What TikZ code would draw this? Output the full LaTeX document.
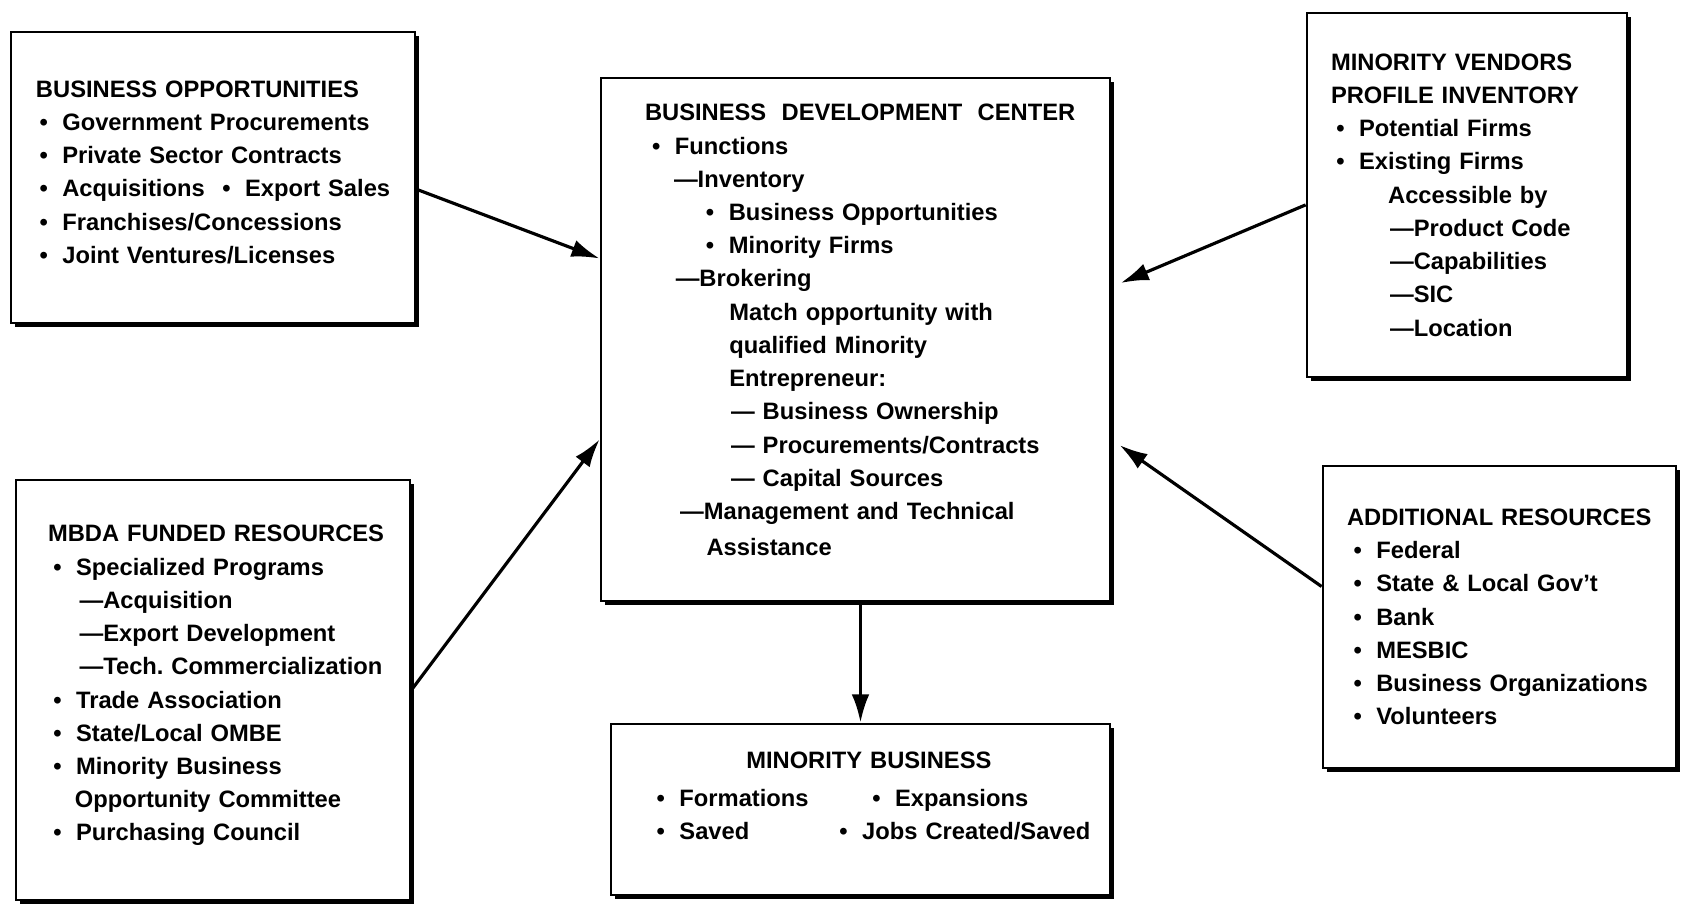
\documentclass[tikz,border=0pt]{standalone}
\usepackage{fontspec}
\setmainfont{Liberation Sans}
\usetikzlibrary{shadows,arrows.meta,calc}
\tikzstyle{panel} = [draw, fill=white, line width=1.6pt, align=left, font={\fontsize{13.5}{18.9}\selectfont\bfseries}, drop shadow={shadow xshift=0.08cm, shadow yshift=-0.08cm, fill=black, opacity=1}]
\tikzstyle{arrow} = [draw, line width=1.8pt, color=black, -{Latex[length=16pt,width=10pt]}]
\newcommand{\bl}[1][2pt]{\hspace*{#1}\makebox[13pt][l]{\textbullet}}
\newcommand{\source}[3]{node (s#1) [panel,#2] {#3}}
\newcommand{\hub}[3]{node (h#1) [panel,#2] {#3}}
\newcommand{\result}[3]{node (r#1) [panel,#2] {#3}}

\begin{document}
\begin{tikzpicture}
\path[use as bounding box, fill=white] (0,0) rectangle (33.8,-18.08);

\path (17.11,-6.79) \hub{1}{text width=8.42cm, inner xsep=0.88cm, minimum height=10.46cm}{%
\mbox{BUSINESS\hspace{0.65em}DEVELOPMENT\hspace{0.65em}CENTER}\\
\bl[4pt]Functions\\
\hspace*{16.5pt}—Inventory\\
\bl[34.7pt]Business Opportunities\\
\bl[34.7pt]Minority Firms\\
\hspace*{17.5pt}—Brokering\\
\hspace*{48pt}Match opportunity with\\
\hspace*{48pt}qualified Minority\\
\hspace*{48pt}Entrepreneur:\\
\hspace*{49pt}— Business Ownership\\
\hspace*{49pt}— Procurements/Contracts\\
\hspace*{49pt}— Capital Sources\\
\hspace*{20pt}—Management and Technical\\[1.5pt]
\hspace*{35pt}Assistance\\[-7.9pt]\mbox{}};

\path (h1)+(-12.85,3.24) \source{1}{text width=7.08cm, inner xsep=0.5cm, minimum height=5.82cm}{%
BUSINESS OPPORTUNITIES\\
\bl Government Procurements\\
\bl Private Sector Contracts\\
\mbox{\rlap{\bl Acquisitions}\hspace*{106pt}\bl[0pt]Export Sales}\\
\bl Franchises/Concessions\\
\bl Joint Ventures/Licenses\\[-12.7pt]\mbox{}};

\path (h1)+(12.23,2.89) \source{2}{text width=5.44cm, inner xsep=0.48cm, minimum height=7.28cm}{%
MINORITY VENDORS\\
PROFILE INVENTORY\\
\bl[3pt]Potential Firms\\
\bl[3pt]Existing Firms\\
\hspace*{32.5pt}Accessible by\\
\hspace*{33.6pt}—Product Code\\
\hspace*{33.6pt}—Capabilities\\
\hspace*{33.6pt}—SIC\\
\hspace*{33.6pt}—Location};

\path (h1)+(-12.85,-7.01) \source{3}{text width=6.6cm, inner xsep=0.64cm, minimum height=8.4cm}{%
\mbox{MBDA FUNDED RESOURCES}\\
\bl[3pt]Specialized Programs\\
\hspace*{18pt}—Acquisition\\
\hspace*{18pt}—Export Development\\
\mbox{\hspace*{18pt}—Tech.\ Commercialization}\\
\bl[3pt]Trade Association\\
\bl[3pt]State/Local OMBE\\
\bl[3pt]Minority Business\\
\hspace*{15.3pt}Opportunity Committee\\
\bl[3pt]Purchasing Council\\[-11.1pt]\mbox{}};

\path (h1)+(12.88,-5.55) \source{4}{text width=6.1cm, inner xsep=0.48cm, minimum height=6.04cm}{%
\mbox{ADDITIONAL RESOURCES}\\
\bl[3.7pt]Federal\\
\bl[3.7pt]State \& Local Gov't\\
\bl[3.7pt]Bank\\
\bl[3.7pt]MESBIC\\
\bl[3.7pt]Business Organizations\\
\bl[3.7pt]Volunteers};

\path (h1)+(0.10,-9.40) \result{1}{align=center, text width=9cm, inner xsep=0.49cm, minimum height=3.42cm}{%
\hspace*{9.5pt}MINORITY BUSINESS\\[2.5pt]
\makebox[243pt][l]{\hspace*{5.5pt}\rlap{\bl[0pt]Formations}\hspace*{122.7pt}\bl[0pt]Expansions}\\
\makebox[243pt][l]{\hspace*{5.5pt}\rlap{\bl[0pt]Saved}\hspace*{104pt}\bl[0pt]Jobs Created/Saved}\\[-3.5pt]\mbox{}};

\path [arrow] ($(s1.north east)!0.54!(s1.south east)$) -- ($(h1.north west)!0.346!(h1.south west)$);
\path [arrow, shorten >=0.2cm] ($(s2.north west)!0.527!(s2.south west)$) -- ($(h1.north east)!0.40!(h1.south east)$);
\path [arrow] (s3.east) -- ($(h1.north west)!0.69!(h1.south west)$);
\path [arrow, shorten >=0.2cm] ($(s4.north west)!0.40!(s4.south west)$) -- ($(h1.north east)!0.69!(h1.south east)$);
\path [arrow] (r1.north |- h1.south) -- (r1.north);
\end{tikzpicture}
\end{document}
